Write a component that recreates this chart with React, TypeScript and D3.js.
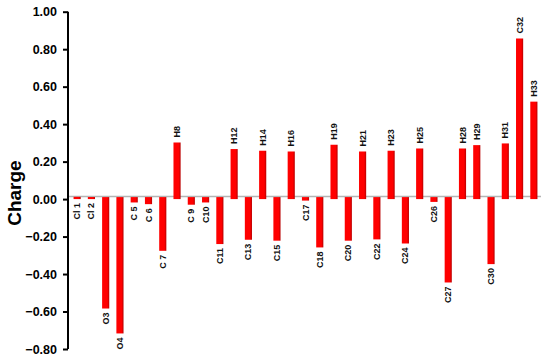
import React, { useEffect, useRef } from 'react';
import * as d3 from 'd3';

const atoms = ['Cl 1', 'Cl 2', 'O3', 'O4', 'C 5', 'C 6', 'C 7', 'H8', 'C 9', 'C10', 'C11', 'H12', 'C13', 'H14', 'C15', 'H16', 'C17',
  'C18', 'H19', 'C20', 'H21', 'C22', 'H23', 'C24', 'H25', 'C26', 'C27', 'H28', 'H29', 'C30', 'H31', 'C32', 'H33'];
const charges = [0.012, 0.011, -0.584, -0.717, -0.018, -0.027, -0.276, 0.302, -0.03, -0.018, -0.24, 0.267, -0.217, 0.258, -0.222, 0.254, -0.008,
  -0.258, 0.29, -0.222, 0.254, -0.215, 0.258, -0.237, 0.27, -0.015, -0.445, 0.27, 0.288, -0.347, 0.297, 0.857, 0.52];
const yTicks = [1.0, 0.8, 0.6, 0.4, 0.2, 0, -0.2, -0.4, -0.6, -0.8];

const W = 550;
const H = 356;

const App = () => {
  const ref = useRef<SVGSVGElement>(null);

  useEffect(() => {
    document.body.style.margin = '0';
    const svg = d3.select(ref.current);
    svg.selectAll('*').remove();

    const data = atoms.map((a, i) => ({ atom: a, v: charges[i] }));

    const x = d3.scaleBand().domain(atoms).range([70, 541]).paddingInner(0.5).paddingOuter(0.25);
    const y = d3.scaleLinear().domain([-0.8, 1.0]).range([349, 11.7]);

    const grad = svg.append('defs').append('linearGradient').attr('id', 'barGrad');
    grad.append('stop').attr('offset', '0%').attr('stop-color', '#ff0000');
    grad.append('stop').attr('offset', '72%').attr('stop-color', '#ff0000');
    grad.append('stop').attr('offset', '100%').attr('stop-color', '#b80000');

    // floor line (drawn under the bars)
    svg.append('line')
      .attr('x1', 68).attr('x2', 541)
      .attr('y1', y(0) - 2.5).attr('y2', y(0) - 2.5)
      .attr('stroke', '#b4b4b4').attr('stroke-width', 1.5);

    // bars
    svg.selectAll('.bar')
      .data(data)
      .enter()
      .append('rect')
      .attr('class', 'bar')
      .attr('x', d => x(d.atom)!)
      .attr('width', x.bandwidth())
      .attr('y', d => d.v > 0 ? y(d.v) : y(0) - 2)
      .attr('height', d => d.v > 0 ? y(0) - y(d.v) : y(d.v) - y(0) + 2)
      .attr('fill', 'url(#barGrad)');

    // atom labels
    svg.selectAll('.lbl')
      .data(data)
      .enter()
      .append('text')
      .attr('class', 'lbl')
      .attr('transform', d => {
        const cx = x(d.atom)! + x.bandwidth() / 2 + 3;
        const yy = d.v > 0.05 ? y(d.v) - 5 : Math.max(y(d.v), y(0)) + 4;
        return `translate(${cx},${yy}) rotate(-90)`;
      })
      .attr('text-anchor', d => d.v > 0.05 ? 'start' : 'end')
      .style('font-family', 'Liberation Sans, Arial, sans-serif')
      .style('font-size', '9px')
      .style('font-weight', 'bold')
      .attr('fill', '#111')
      .text(d => d.atom);

    // y axis
    const axis = svg.append('g').attr('transform', 'translate(68,0)')
      .call(d3.axisLeft(y).tickValues(yTicks).tickFormat(d3.format('.2f')).tickSize(5).tickPadding(6));
    axis.select('.domain').attr('stroke', '#000').attr('stroke-width', 2).attr('d', `M0,${y(1)}V${y(-0.8)}`);
    axis.selectAll('.tick line').attr('stroke', '#000').attr('stroke-width', 2);
    axis.selectAll('.tick text')
      .style('font-family', 'Liberation Sans, Arial, sans-serif')
      .style('font-size', '12.5px')
      .style('font-weight', 'bold')
      .attr('fill', '#000');

    svg.append('text')
      .attr('transform', `translate(21,${y(0) - 6}) rotate(-90)`)
      .attr('text-anchor', 'middle')
      .style('font-family', 'Liberation Sans, Arial, sans-serif')
      .style('font-size', '19px')
      .style('font-weight', 'bold')
      .attr('fill', '#000')
      .text('Charge');
  }, []);

  return <svg ref={ref} width={W} height={H} style={{ display: 'block', background: '#fff' }} />;
};

export default App;
